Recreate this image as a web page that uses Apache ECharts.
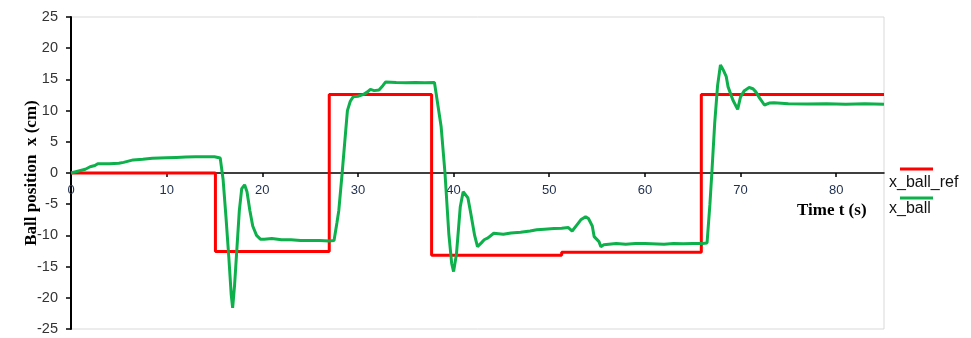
<!DOCTYPE html>
<html>
<head>
<meta charset="utf-8">
<script src="https://cdn.jsdelivr.net/npm/echarts@6/dist/echarts.min.js"></script>
<style>html,body{margin:0;padding:0;background:#fff}#c{width:971px;height:338px}</style>
</head>
<body>
<div id="c"></div>
<script>
// Reference signal x_ball_ref (step changes)
const refTime = [0, 15.1, 27.0, 37.7, 51.3, 65.9, 85];
const refPos  = [0, -12.6, 12.6, -13.2, -12.7, 12.6, 12.6];

// Measured ball position x_ball
const ballTime = [0,0.5,1.0,1.5,2.0,2.5,2.8,4.0,5.0,5.5,6.0,6.5,7.5,8.5,10,11,12,13,14,15,15.6,15.9,16.2,16.5,16.75,16.9,17.1,17.35,17.6,17.85,18.15,18.4,18.7,19.0,19.4,19.8,20.2,21,22,23,24,25,26,27,27.5,27.8,28.0,28.35,28.7,28.9,29.2,29.5,30.0,30.6,31.0,31.3,31.7,32.2,32.6,32.9,34,35,36,37,38,38.2,38.7,39.1,39.5,39.8,40.0,40.3,40.7,41.0,41.2,41.5,41.8,42.2,42.5,42.9,43.2,43.6,44.2,45.2,46,47,48,48.7,49.5,50.5,51.3,52.0,52.4,52.9,53.3,53.8,54.1,54.3,54.5,54.7,54.9,55.2,55.4,55.7,57,58,59,60,62,63,64,65,66.0,66.5,66.8,67.0,67.3,67.6,67.9,68.2,68.5,68.7,69.2,69.7,70.0,70.4,70.9,71.3,71.6,72.0,72.5,73.0,73.5,75,77,79,81,83,85];
const ballPos  = [0,0.2,0.4,0.6,1.0,1.2,1.5,1.5,1.55,1.7,1.9,2.1,2.2,2.35,2.45,2.5,2.55,2.6,2.6,2.6,2.4,-1,-7,-13.5,-19.5,-21.6,-18,-12,-6,-2.5,-1.9,-3,-6,-8.5,-10,-10.6,-10.6,-10.5,-10.7,-10.7,-10.8,-10.8,-10.8,-10.9,-10.8,-8,-6,0,6.4,10,11.5,12.2,12.3,12.6,13.0,13.4,13.2,13.3,14.0,14.6,14.5,14.45,14.5,14.45,14.5,14.3,7.4,0,-9.7,-14.5,-15.8,-13,-5.4,-3,-2.8,-4,-6.5,-10,-11.8,-11.2,-10.7,-10.4,-9.65,-9.8,-9.6,-9.5,-9.3,-9.1,-9.0,-8.9,-8.85,-8.75,-9.3,-8.3,-7.5,-7.0,-7.3,-7.5,-8.5,-10.2,-10.3,-11.0,-11.8,-11.5,-11.3,-11.4,-11.3,-11.3,-11.4,-11.3,-11.35,-11.3,-11.3,-11.2,-5,0,8,14,17.3,16.5,15.5,13.8,11.7,10.2,12.2,13.2,13.7,13.5,13.0,12.0,10.9,11.2,11.25,11.1,11.05,11.1,11.0,11.1,11.0];

const seriesNames = ['x_ball_ref', 'x_ball'];
const yTitle = 'Ball position  x (cm)';
const xTitle = 'Time t (s)';

const chart = echarts.init(document.getElementById('c'));
const zip = (a, b) => a.map((v, i) => [v, b[i]]);

const gridTop = 17, gridBottom = 9, H = 338;
const plotH = H - gridTop - gridBottom;
// move x axis up to y = 0 (middle of symmetric -25..25 range)
const xOffset = -plotH * (0 - (-25)) / 50;

chart.setOption({
  animation: false,
  backgroundColor: '#fff',
  grid: { left: 71, right: 87, top: gridTop, bottom: gridBottom, show: true, borderColor: '#d9d9d9', borderWidth: 1,
          containLabel: false, outerBoundsMode: 'none' },
  xAxis: {
    type: 'value', min: 0, max: 85, interval: 10, position: 'bottom', offset: xOffset,
    axisLine: { onZero: false, lineStyle: { color: '#000', width: 1.5 } },
    axisTick: { show: true, inside: false, length: 4, lineStyle: { color: '#000', width: 1.5 } },
    axisLabel: { color: '#1f2f4f', fontSize: 13, fontFamily: 'Liberation Sans', margin: 11, showMaxLabel: false },
    splitLine: { show: false }
  },
  yAxis: {
    type: 'value', min: -25, max: 25, interval: 5,
    name: yTitle, nameLocation: 'middle', nameGap: 31, nameRotate: 90, nameMoveOverlap: false,
    nameTextStyle: { fontFamily: 'Liberation Serif', fontWeight: 'bold', fontSize: 17, color: '#000' },
    axisLine: { show: true, onZero: false, lineStyle: { color: '#000', width: 2 } },
    axisTick: { show: true, length: 5, lineStyle: { color: '#000', width: 1.5 } },
    axisLabel: { color: '#333', fontSize: 14.5, fontFamily: 'Liberation Sans', margin: 13 },
    splitLine: { show: false }
  },
  legend: { show: false },
  series: [
    { name: seriesNames[0], type: 'line', step: 'end', data: zip(refTime, refPos), showSymbol: false,
      lineStyle: { color: '#ff0000', width: 3 }, itemStyle: { color: '#ff0000' }, z: 2 },
    { name: seriesNames[1], type: 'line', data: zip(ballTime, ballPos), showSymbol: false,
      lineStyle: { color: '#0db04b', width: 3 }, itemStyle: { color: '#0db04b' }, z: 3 }
  ],
  graphic: [
    { type: 'text', left: 797, top: 202, style: { text: xTitle, font: 'bold 17px "Liberation Serif"', fill: '#000' } },
    { type: 'line', shape: { x1: 900, y1: 169, x2: 933, y2: 169 }, style: { stroke: '#ff0000', lineWidth: 3 } },
    { type: 'text', left: 889, top: 175, style: { text: seriesNames[0], font: '16px "Liberation Sans"', fill: '#111' } },
    { type: 'line', shape: { x1: 900, y1: 198, x2: 933, y2: 198 }, style: { stroke: '#0db04b', lineWidth: 3 } },
    { type: 'text', left: 889, top: 201, style: { text: seriesNames[1], font: '16px "Liberation Sans"', fill: '#111' } }
  ]
});
</script>
</body>
</html>
